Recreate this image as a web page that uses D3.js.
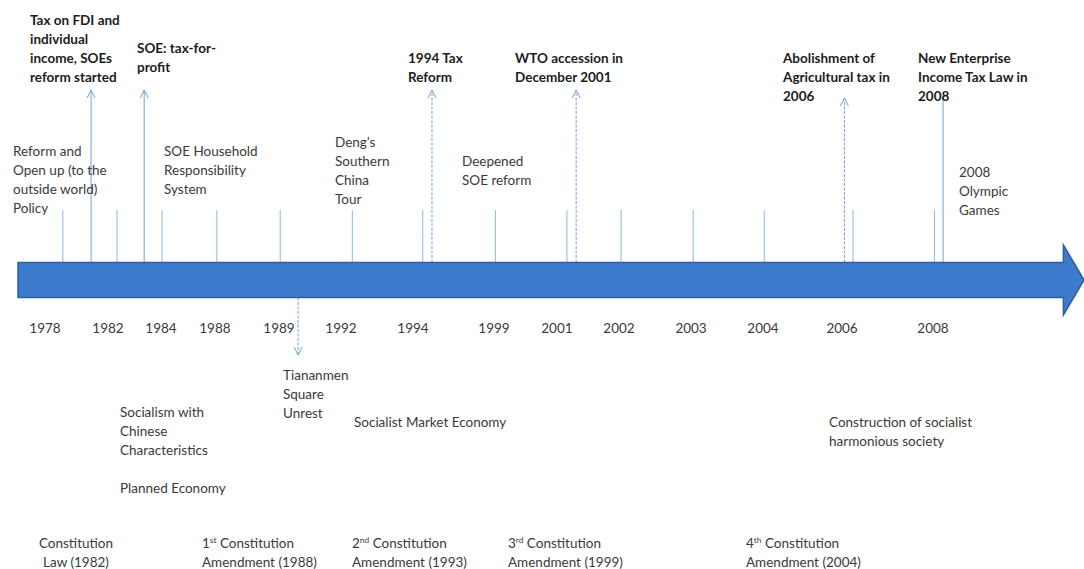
<!DOCTYPE html>
<html><head><meta charset="utf-8">
<script src="https://cdn.jsdelivr.net/npm/d3@7"></script>
<style>
body{margin:0;background:#fff}
svg{display:block}
text{font-family:Lato,"Open Sans",sans-serif}
</style>
</head><body>
<svg id="chart" width="1084" height="569"></svg>
<script>
// ---------- DATA ----------
// Year labels along the timeline and their position (percent of the timeline width)
const yearLabels = ["1978","1982","1984","1988","1989","1992","1994","1999","2001","2002","2003","2004","2006","2008"];
const yearPos    = [4.15, 9.96, 14.85, 19.83, 25.74, 31.46, 38.1, 45.57, 51.38, 57.1, 63.75, 70.39, 77.68, 86.07];
// Short marker ticks above the arrow (percent of the timeline width)
const tickPos    = [5.8, 10.8, 14.95, 20.0, 25.85, 32.5, 39.0, 45.7, 52.3, 57.3, 63.95, 70.5, 78.7, 86.2];

// Tax-policy events (bold, pointed to by tall arrows)
const taxEvents = [
  "Tax on FDI and|individual|income, SOEs|reform started",
  "SOE: tax-for-|profit",
  "1994 Tax|Reform",
  "WTO accession in|December 2001",
  "Abolishment of|Agricultural tax in|2006",
  "New Enterprise|Income Tax Law in|2008"
];
const taxPos = [8.4, 13.3, 39.85, 53.15, 77.9, 87.0];

// Policy events above the arrow
const policyEvents = [
  "Reform and|Open up (to the|outside world)|Policy",
  "SOE Household|Responsibility|System",
  "Deng\u2019s|Southern|China|Tour",
  "Deepened|SOE reform",
  "2008|Olympic|Games"
];

// Event below the arrow
const downEvent = "Tiananmen|Square|Unrest";
const downPos = 27.5;

// Economic systems / ideology
const ideology = [
  "Socialism with|Chinese|Characteristics",
  "Planned Economy",
  "Socialist Market Economy",
  "Construction of socialist|harmonious society"
];

// Constitution milestones: [prefix, superscript, rest, second line]
const constitution = [
  ["", "", "Constitution", "Law (1982)"],
  ["1", "st", " Constitution", "Amendment (1988)"],
  ["2", "nd", " Constitution", "Amendment (1993)"],
  ["3", "rd", " Constitution", "Amendment (1999)"],
  ["4", "th", " Constitution", "Amendment (2004)"]
];

// ---------- LAYOUT ----------
const W = 1084, H = 569;
const LH = 19, FS = 13.5;
const arrowLayout = {x0: 1.66, x1: 98.1, tip: 100, cy: 280, half: 17.5, headHalf: 35};
const tickTop = 210;
const taxArrowTop = [90, 90, 90, 90, 98, 95];
const taxDashed = [false, false, true, true, true, false];
const taxHead = [true, true, true, true, true, false];
const taxText = [[30, 20], [137, 48], [408, 58], [515, 58], [783, 58], [918, 58]];
const policyText = [[13, 151], [164, 151], [335, 142], [462, 161], [959, 172]];
const downText = [283, 375], downBottom = 355;
const ideologyText = [[120, 412], [120, 488], [354, 422], [829, 422]];
const constText = [[76, 543, "middle"], [202, 543, "start"], [352, 543, "start"], [508, 543, "start"], [746, 543, "start"]];
const yearY = 328;

const x = d3.scaleLinear().domain([0, 100]).range([0, W]);
const svg = d3.select("#chart");

const lineBlue = "#6fa3d8";
const textDark = "#1c1c1c";
const textReg = "#3a3a3a";

// short ticks
svg.append("g").selectAll("line").data(tickPos).join("line")
  .attr("x1", d => x(d)).attr("x2", d => x(d))
  .attr("y1", tickTop).attr("y2", arrowLayout.cy - arrowLayout.half)
  .attr("stroke", "#8fb8e2").attr("stroke-width", 1);

// tall tax arrows
const tg = svg.append("g");
taxPos.forEach((p, i) => {
  const xx = x(p), top = taxArrowTop[i];
  tg.append("line").attr("x1", xx).attr("x2", xx)
    .attr("y1", arrowLayout.cy - arrowLayout.half).attr("y2", top)
    .attr("stroke", lineBlue).attr("stroke-width", 1)
    .attr("stroke-dasharray", taxDashed[i] ? "3,1.5" : null);
  if (taxHead[i]) {
    tg.append("path").attr("d", `M${xx-4},${top+8}L${xx},${top}L${xx+4},${top+8}`)
      .attr("fill", "none").attr("stroke", lineBlue).attr("stroke-width", 1);
  }
});

// down arrow
{
  const xx = x(downPos);
  const top = arrowLayout.cy + arrowLayout.half;
  svg.append("line").attr("x1", xx).attr("x2", xx).attr("y1", top).attr("y2", downBottom)
    .attr("stroke", lineBlue).attr("stroke-width", 1).attr("stroke-dasharray", "3,1.5");
  svg.append("path").attr("d", `M${xx-4},${downBottom-8}L${xx},${downBottom}L${xx+4},${downBottom-8}`)
    .attr("fill", "none").attr("stroke", lineBlue).attr("stroke-width", 1);
}

// main arrow
{
  const a = arrowLayout;
  const p = d3.path();
  p.moveTo(x(a.x0), a.cy - a.half);
  p.lineTo(x(a.x1), a.cy - a.half);
  p.lineTo(x(a.x1), a.cy - a.headHalf);
  p.lineTo(x(a.tip), a.cy);
  p.lineTo(x(a.x1), a.cy + a.headHalf);
  p.lineTo(x(a.x1), a.cy + a.half);
  p.lineTo(x(a.x0), a.cy + a.half);
  p.closePath();
  svg.append("path").attr("d", p.toString())
    .attr("fill", "#3d7ccc").attr("stroke", "#2c5f9e").attr("stroke-width", 1.5);
}

// multi-line text helper
function block(str, px, py, opts) {
  const t = svg.append("text").attr("x", px).attr("y", py)
    .attr("font-size", FS).attr("fill", opts.fill)
    .attr("font-weight", opts.bold ? "bold" : "normal")
    .attr("text-anchor", opts.anchor || "start");
  str.split("|").forEach((s, i) => {
    t.append("tspan").attr("x", px).attr("y", py + i * LH).attr("dy", "0.35em").text(s);
  });
  return t;
}

taxEvents.forEach((s, i) => block(s, taxText[i][0], taxText[i][1], {fill: textDark, bold: true}));
policyEvents.forEach((s, i) => block(s, policyText[i][0], policyText[i][1], {fill: textReg}));
block(downEvent, downText[0], downText[1], {fill: textReg});
ideology.forEach((s, i) => block(s, ideologyText[i][0], ideologyText[i][1], {fill: textReg}));

// year labels
svg.append("g").selectAll("text").data(yearLabels).join("text")
  .attr("x", (d, i) => x(yearPos[i])).attr("y", yearY).attr("dy", "0.35em")
  .attr("text-anchor", "middle").attr("font-size", FS).attr("fill", textReg)
  .text(d => d);

// constitution
constitution.forEach((c, i) => {
  const [px, py, anchor] = constText[i];
  const t = svg.append("text").attr("x", px).attr("y", py).attr("dy", "0.35em")
    .attr("font-size", FS).attr("fill", textReg).attr("text-anchor", anchor);
  if (c[0]) {
    t.append("tspan").text(c[0]);
    t.append("tspan").attr("font-size", FS * 0.62).attr("dy", "-0.55em").text(c[1]);
    t.append("tspan").attr("dy", (FS * 0.62 * 0.55) + "px").text(c[2]);
  } else {
    t.append("tspan").text(c[2]);
  }
  svg.append("text").attr("x", px).attr("y", py + LH).attr("dy", "0.35em")
    .attr("font-size", FS).attr("fill", textReg).attr("text-anchor", anchor).text(c[3]);
});
</script>
</body></html>
